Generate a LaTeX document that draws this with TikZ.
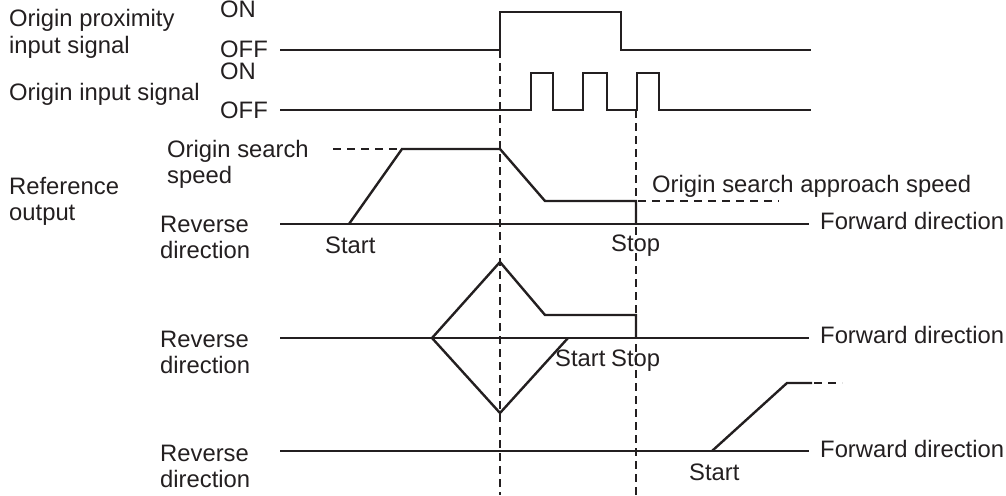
\documentclass[tikz,border=0pt]{standalone}
\usepackage{fontspec}
\setmainfont{Liberation Sans}
\definecolor{ink}{HTML}{231F20}
\begin{document}
\begin{tikzpicture}[x=1pt,y=-1pt,
  lbl/.style={font=\fontsize{23.8}{26}\selectfont, text=ink, inner sep=0pt, align=left, anchor=base west},
  sig/.style={draw=ink, line width=2.4pt, line join=miter},
  axisline/.style={draw=ink, line width=1.6pt},
  guide/.style={draw=ink, line width=1.4pt, dash pattern=on 8pt off 5pt},
  speedguide/.style={draw=ink, line width=1.3pt, dash pattern=on 8pt off 6pt},
]
\useasboundingbox (0,0) rectangle (1006,495);

% left labels (base = baseline of last line)
\node[lbl] (prox) at (9,53) {Origin proximity\\input signal};
\node[lbl] (orig) at (9,100) {Origin input signal};
\node[lbl] (refout) at (9,220) {Reference\\output};
\node[lbl] (on1) at (220,18) {ON};
\node[lbl] (off1) at (220,57) {OFF};
\node[lbl] (on2) at (220,79) {ON};
\node[lbl] (off2) at (220,118) {OFF};

% dashed guides
\coordinate (g1a) at (500,50);
\coordinate (g1b) at (500,495);
\coordinate (g2a) at (636,110);
\coordinate (g2b) at (636,495);
\draw[guide] (g1a) -- (g1b);
\draw[guide] (g2a) -- (g2b);

% signals
\draw[sig] (280,50) -- (500,50) -- (500,12) -- (621,12) -- (621,50) -- (811,50);
\draw[sig] (280,110) -- (531,110) -- (531,73) -- (553,73) -- (553,110)
  -- (583,110) -- (583,73) -- (607,73) -- (607,110)
  -- (637,110) -- (637,73) -- (659,73) -- (659,110) -- (811,110);

% graph 1
\node[lbl] (oss) at (167,183) {Origin search\\speed};
\node[lbl] (rev1) at (160,258) {Reverse\\direction};
\node[lbl] (fwd1) at (820,229) {Forward direction};
\node[lbl] (start1) at (325,253) {Start};
\node[lbl] (stop1) at (611,251) {Stop};
\node[lbl] (osa) at (652,192) {Origin search approach speed};
\draw[axisline] (280,224) -- (809,224);
\draw[sig] (349,224) -- (402,149) -- (500,149) -- (545,201) -- (636,201) -- (636,224);
\draw[speedguide] (333,149) -- (400,149);
\draw[speedguide] (638,201) -- (779,201);

% graph 2
\node[lbl] (rev2) at (160,373) {Reverse\\direction};
\node[lbl] (fwd2) at (820,343) {Forward direction};
\node[lbl] (start2) at (555,366) {Start};
\node[lbl] (stop2) at (611,366) {Stop};
\draw[axisline] (280,338) -- (809,338);
\draw[sig] (568,338) -- (500,413) -- (432,338) -- (500,262) -- (545,315) -- (636,315) -- (636,338);

% graph 3
\node[lbl] (rev3) at (160,487) {Reverse\\direction};
\node[lbl] (fwd3) at (820,457) {Forward direction};
\node[lbl] (start3) at (689,480) {Start};
\draw[axisline] (280,451) -- (809,451);
\draw[sig] (712,451) -- (787,383) -- (812,383);
\draw[speedguide] (814,383) -- (842,383);
\end{tikzpicture}
\end{document}
